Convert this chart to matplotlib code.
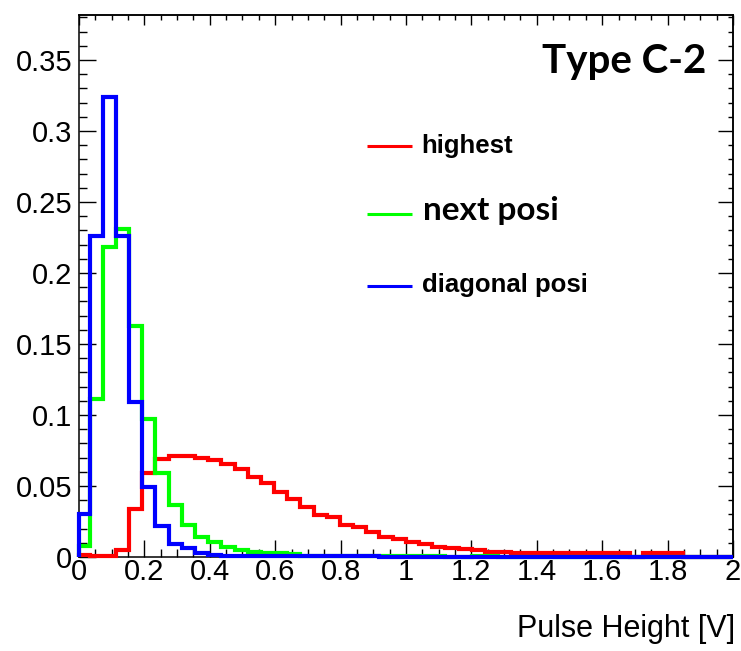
import numpy as np
import matplotlib.pyplot as plt
from matplotlib.ticker import MultipleLocator, FormatStrFormatter

# ------------------------------------------------------------------
# histogram binning, read off the step positions in the picture
# ------------------------------------------------------------------
bin_lo = -0.008
bin_width = 0.0403
n_bins = 50

# bin contents (normalised), one value per bin
highest = [0.0015, 0.0005, 0.0005, 0.005, 0.034, 0.0594, 0.069, 0.0714, 0.0714, 0.0698,
           0.0681, 0.0658, 0.0622, 0.0563, 0.0519, 0.0455, 0.041, 0.035, 0.0296, 0.0284,
           0.0225, 0.0209, 0.0174, 0.0143, 0.0125, 0.0108, 0.0089, 0.0073, 0.0061, 0.0054,
           0.0046, 0.0038, 0.0037, 0.0028, 0.0026, 0.0026, 0.003, 0.003, 0.0028, 0.0026,
           0.0026, 0.0026, 0.0, 0.0026, 0.0026, 0.0026, 0.0, 0.0, 0.0, 0.0]

next_posi = [0.008, 0.111, 0.218, 0.231, 0.163, 0.097, 0.0594, 0.0366, 0.0225, 0.0143,
             0.0108, 0.0073, 0.005, 0.0037, 0.003, 0.0026, 0.002, 0.0005, 0.0005, 0.001,
             0.001, 0.0008, 0.001, 0.001, 0.0008, 0.0008, 0.0008, 0.0005, 0.0, 0.0,
             0.0008, 0.0005, 0.0, 0.0, 0.0, 0.0, 0.0, 0.0, 0.0, 0.0,
             0.0, 0.0, 0.0, 0.0, 0.0, 0.0, 0.0, 0.0, 0.0, 0.0]

diagonal_posi = [0.03, 0.226, 0.324, 0.226, 0.109, 0.0495, 0.022, 0.009, 0.006, 0.003,
                 0.0015, 0.001, 0.001, 0.001, 0.001, 0.001, 0.001, 0.001, 0.001, 0.0005,
                 0.0005, 0.001, 0.001, 0.0, 0.0, 0.0, 0.0, 0.0, 0.0, 0.0,
                 0.0, 0.0, 0.0, 0.0, 0.0, 0.0, 0.0, 0.0, 0.0, 0.0,
                 0.0, 0.0, 0.0, 0.0, 0.0, 0.0, 0.0, 0.0, 0.0, 0.0]

series_names = ["highest", "next posi", "diagonal posi"]
series_colors = ["#ff0000", "#00ff00", "#0000ff"]

x_ticks = np.arange(0, 2.01, 0.2)
y_ticks = np.arange(0, 0.351, 0.05)

title_text = "Type C-2"
x_label = "Pulse Height [V]"

# ------------------------------------------------------------------
plt.rcParams["font.family"] = ["Liberation Sans", "DejaVu Sans"]

fig = plt.figure(figsize=(7.41, 6.51), dpi=100)
ax = fig.add_axes([0.1066, 0.1444, 0.8826, 0.8326])

edges = np.clip(bin_lo + bin_width * np.arange(n_bins + 1), 0, 2)
for vals, col in zip([highest, next_posi, diagonal_posi], series_colors):
    ax.stairs(vals, edges, color=col, lw=3, baseline=0, clip_on=False, zorder=3)

ax.set_xlim(0, 2)
ax.set_ylim(0, 0.3817)

ax.set_xticks(x_ticks)
ax.set_yticks(y_ticks)
ax.xaxis.set_minor_locator(MultipleLocator(0.05))
ax.yaxis.set_minor_locator(MultipleLocator(0.01))
ax.xaxis.set_major_formatter(FormatStrFormatter("%g"))
ax.yaxis.set_major_formatter(FormatStrFormatter("%g"))

ax.tick_params(which="both", direction="in", width=1.0, labelsize=21)
ax.tick_params(which="major", length=12.5)
ax.tick_params(which="minor", length=5.8)
ax.tick_params(axis="x", pad=1)
ax.tick_params(axis="y", pad=5)
for sp in ax.spines.values():
    sp.set_linewidth(1.1)

# mirrored ticks on top and right (shorter, like the ROOT frame)
secx = ax.secondary_xaxis("top")
secx.set_xticks(x_ticks)
secx.xaxis.set_minor_locator(MultipleLocator(0.05))
secx.tick_params(which="both", direction="in", width=1.0, labeltop=False)
secx.tick_params(which="major", length=7.5)
secx.tick_params(which="minor", length=3.5)
secx.spines["top"].set_linewidth(1.1)

secy = ax.secondary_yaxis("right")
secy.set_yticks(y_ticks)
secy.yaxis.set_minor_locator(MultipleLocator(0.01))
secy.tick_params(which="both", direction="in", width=1.0, labelright=False)
secy.tick_params(which="major", length=10.5)
secy.tick_params(which="minor", length=3.6)
secy.spines["right"].set_linewidth(1.1)

# axis title, bottom right like ROOT
fig.text(0.992, 1 - 637 / 651, x_label, ha="right", va="baseline", fontsize=22)

# panel tag
fig.text(0.953, 1 - 73 / 651, title_text, ha="right", va="baseline",
         fontsize=29, fontweight="bold", family=["Lato", "DejaVu Sans"])

# hand-placed legend
leg_y = [0.758, 0.633, 0.500]
text_base = [1 - 153 / 651, 1 - 220 / 651, 1 - 292 / 651]
for i, (name, col) in enumerate(zip(series_names, series_colors)):
    ax.plot([0.440, 0.509], [leg_y[i], leg_y[i]], transform=ax.transAxes,
            color=col, lw=2.2, solid_capstyle="butt")
    if name == "next posi":
        fig.text(0.571, text_base[i], name, ha="left", va="baseline",
                 fontsize=24, fontweight="bold", family=["Lato", "DejaVu Sans"])
    else:
        fig.text(0.569, text_base[i], name, ha="left", va="baseline",
                 fontsize=18.5, fontweight="bold")

fig.savefig("out.png", dpi=100, facecolor="white")
